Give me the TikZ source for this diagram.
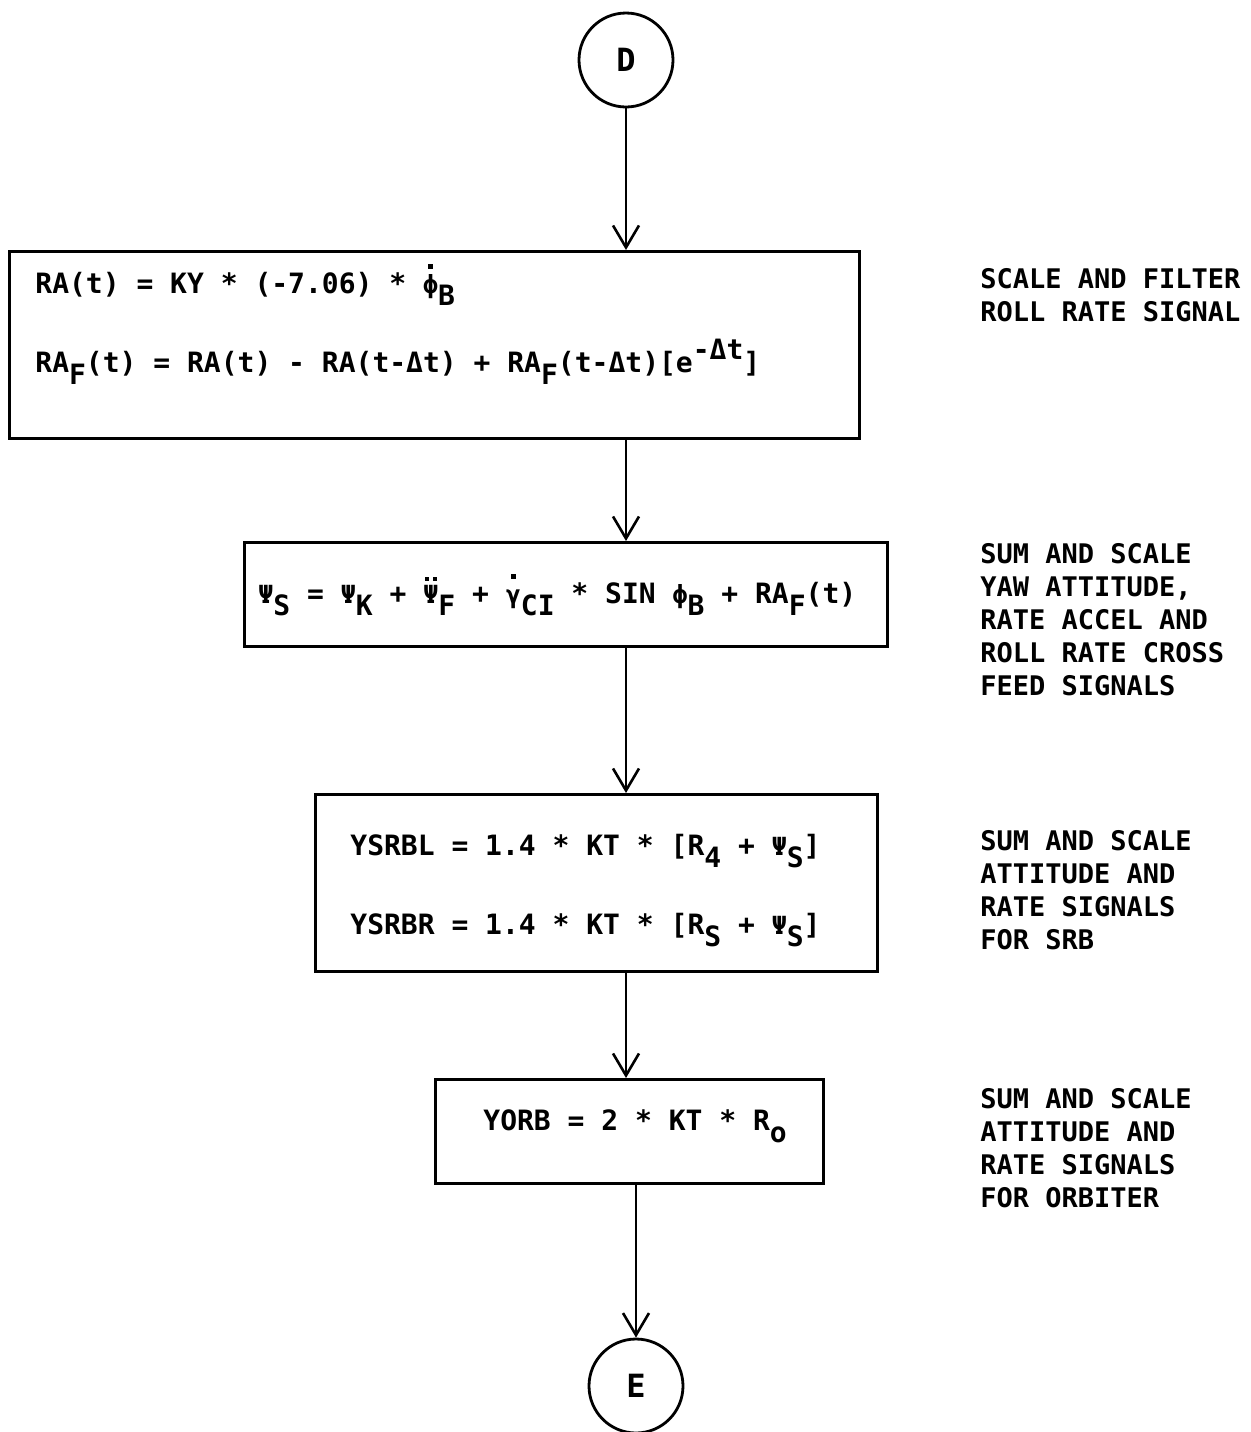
\documentclass[tikz,border=0pt]{standalone}
\usepackage{fontspec}
\setmainfont{DejaVu Sans Mono}
\usetikzlibrary{arrows.meta}
\newcommand{\lo}[1]{\raisebox{-0.45em}{#1}}
\newcommand{\hi}[1]{\raisebox{0.45em}{#1}}
\newcommand{\gk}[1]{{\fontsize{12.5pt}{12.5pt}\selectfont #1}}
\newcommand{\onedot}[1]{\gk{\setbox0\hbox{#1}\rlap{\hbox to\wd0{\hss\raisebox{0.98em}{\rule{2.2pt}{2.2pt}}\hss}}\box0}}
\newcommand{\twodot}[1]{\gk{\setbox0\hbox{#1}\rlap{\hbox to\wd0{\hss\raisebox{0.9em}{\rule{2pt}{2pt}\kern2pt\rule{2pt}{2pt}}\hss}}\box0}}

\begin{document}
\begin{tikzpicture}[
  x=0.5pt, y=-0.5pt,
  every node/.style={inner sep=0pt, font=\fontsize{14pt}{16pt}\selectfont\bfseries},
  box/.style={draw=black, line width=1.3pt, anchor=north west},
  conn/.style={draw=black, line width=1.4pt, circle, minimum size=47pt},
  eqn/.style={anchor=base west},
  note/.style={anchor=north west, align=left, font=\fontsize{13.5pt}{16.5pt}\selectfont\bfseries},
  arr/.style={-{Straight Barb[length=11pt, width=13pt]}, line width=1.3pt}
]
\useasboundingbox (0,0) rectangle (1251,1432);

% connectors
\node[conn, font=\fontsize{16pt}{16pt}\selectfont\bfseries] (conD) at (626,60) {D};
\node[conn, font=\fontsize{16pt}{16pt}\selectfont\bfseries] (conE) at (636,1386) {E};

% boxes
\node[box, minimum width=425pt, minimum height=93.5pt] (rollbox) at (8,250) {};
\node[box, minimum width=321.5pt, minimum height=52pt] (yawbox) at (243,541) {};
\node[box, minimum width=281pt, minimum height=88.5pt] (srbbox) at (314,793) {};
\node[box, minimum width=194pt, minimum height=52pt] (orbbox) at (434,1078) {};

% equations
\node[eqn] (raeq) at (35,293) {RA(t) = KY * (-7.06) * \onedot{ϕ}\lo{B}};
\node[eqn] (rafeq) at (35,372) {RA\lo{F}(t) = RA(t) - RA(t-Δt) + RA\lo{F}(t-Δt)[e\hi{-Δt}]};
\node[eqn] (psieq) at (258,603) {\gk{Ψ}\lo{S} = \gk{Ψ}\lo{K} + \twodot{Ψ}\lo{F} + \onedot{γ}\lo{CI} * SIN \gk{ϕ}\lo{B} + RA\lo{F}(t)};
\node[eqn] (ysrbleq) at (350,855) {YSRBL = 1.4 * KT * [R\lo{4} + \gk{Ψ}\lo{S}]};
\node[eqn] (ysrbreq) at (350,934) {YSRBR = 1.4 * KT * [R\lo{S} + \gk{Ψ}\lo{S}]};
\node[eqn] (yorbeq) at (483,1130) {YORB = 2 * KT * R\lo{o}};

% notes
\node[note] (rolltxt) at (980,268) {SCALE AND FILTER\\ROLL RATE SIGNAL};
\node[note] (yawtxt) at (980,543) {SUM AND SCALE\\YAW ATTITUDE,\\RATE ACCEL AND\\ROLL RATE CROSS\\FEED SIGNALS};
\node[note] (srbtxt) at (980,830) {SUM AND SCALE\\ATTITUDE AND\\RATE SIGNALS\\FOR SRB};
\node[note] (orbtxt) at (980,1088) {SUM AND SCALE\\ATTITUDE AND\\RATE SIGNALS\\FOR ORBITER};

% flow
\draw[arr] (conD) -- (rollbox.north -| conD);
\draw[arr] (rollbox.south -| conD) -- (yawbox.north -| conD);
\draw[arr] (yawbox.south -| conD) -- (srbbox.north -| conD);
\draw[arr] (srbbox.south -| conD) -- (orbbox.north -| conD);
\draw[arr] (orbbox.south -| conE) -- (conE);
\end{tikzpicture}
\end{document}
